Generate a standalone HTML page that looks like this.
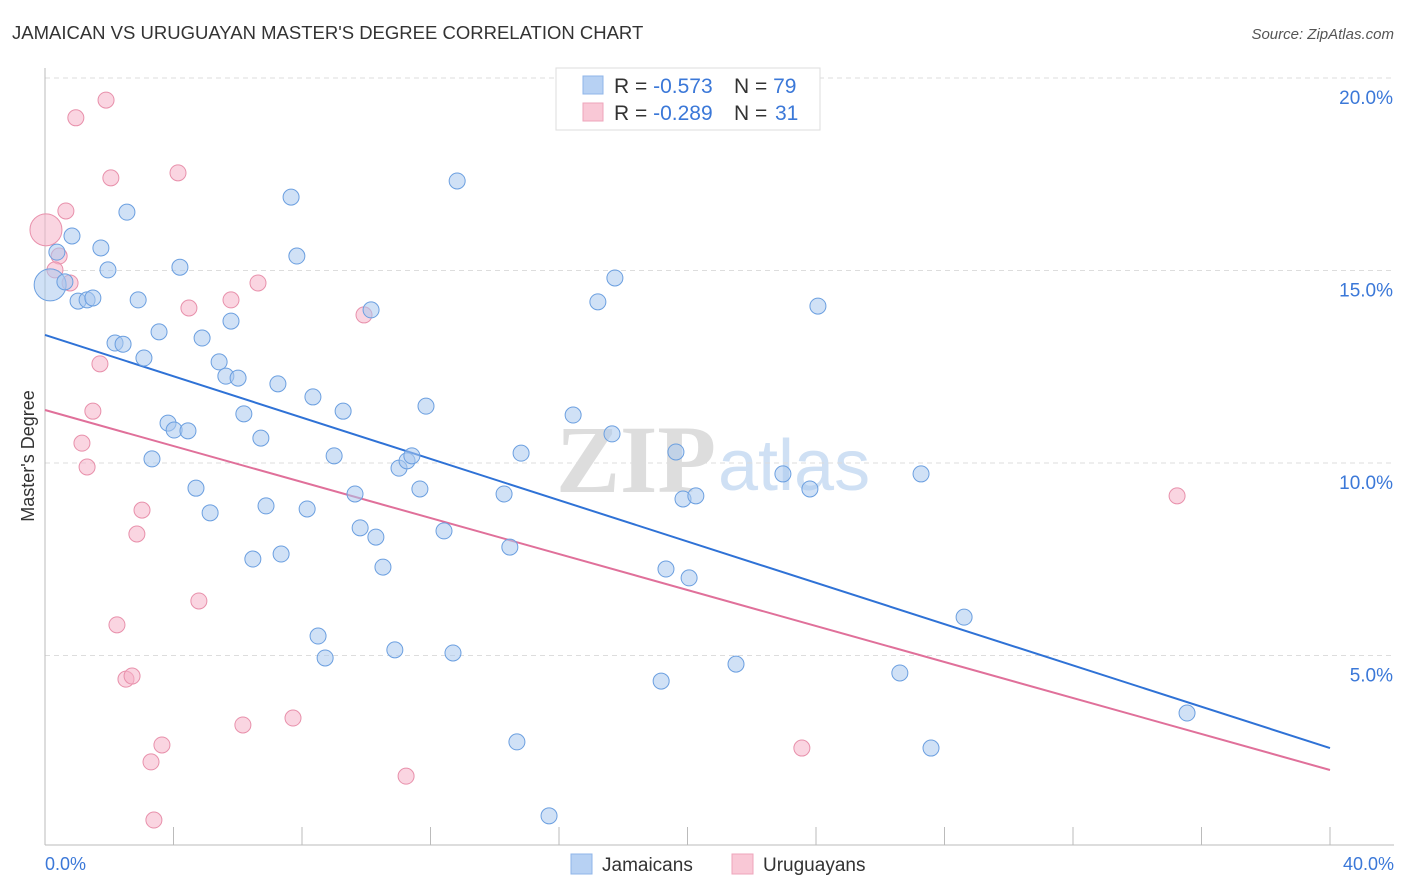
<!DOCTYPE html>
<html><head><meta charset="utf-8"><style>
body{margin:0;background:#fff;font-family:"Liberation Sans",sans-serif}
svg{display:block}
</style></head><body>
<svg id="c" width="1406" height="892">
<text x="12" y="39" font-size="18.5" fill="#333">JAMAICAN VS URUGUAYAN MASTER'S DEGREE CORRELATION CHART</text>
<text x="1394" y="39" font-size="15" fill="#555" font-style="italic" text-anchor="end">Source: ZipAtlas.com</text>
<text x="716" y="492" font-size="96" fill="#ddd" text-anchor="end" font-family="Liberation Serif" font-weight="bold">ZIP</text>
<text x="718" y="490" font-size="72" fill="#cfe0f4">atlas</text>
<g id="grid"></g><g id="axes"></g><g id="lines"></g><g id="pts"></g>
<text transform="translate(34,456) rotate(-90)" font-size="18" fill="#333" text-anchor="middle">Master's Degree</text>
<g>
<rect x="556" y="68" width="264" height="62" fill="#fff" stroke="#ddd"/>
<rect x="583" y="76" width="20" height="18" fill="#b7d1f3" stroke="#8fb5e8"/>
<rect x="583" y="103" width="20" height="18" fill="#f9c8d6" stroke="#eea5bb"/>
<text x="614" y="93" font-size="21" fill="#333">R = <tspan fill="#3b78d8">-0.573</tspan><tspan x="734">N = </tspan><tspan fill="#3b78d8">79</tspan></text>
<text x="614" y="120" font-size="21" fill="#333">R = <tspan fill="#3b78d8">-0.289</tspan><tspan x="734">N = </tspan><tspan fill="#3b78d8" x="775">31</tspan></text>
</g>
<g>
<rect x="571" y="854" width="21" height="20" fill="#b7d1f3" stroke="#8fb5e8"/>
<text x="602" y="871" font-size="19" fill="#333">Jamaicans</text>
<rect x="732" y="854" width="21" height="20" fill="#f9c8d6" stroke="#eea5bb"/>
<text x="763" y="871" font-size="19" fill="#333">Uruguayans</text>
</g>
</svg>
<script>
const yTicks=[5,10,15,20];
const xTickLabels=["0.0%","40.0%"];
const blueX=[0.16,0.37,0.84,0.62,1.03,1.31,1.49,1.74,1.96,2.55,2.90,2.18,2.43,3.08,3.55,4.20,4.89,5.79,5.42,5.63,6.01,6.19,3.83,4.02,4.45,3.33,4.70,5.14,6.72,7.25,7.66,7.84,8.34,9.00,9.28,10.15,6.88,8.16,6.47,7.35,9.65,9.81,10.30,10.52,11.02,11.27,11.42,11.67,11.86,12.42,12.83,14.29,14.47,14.82,16.44,17.21,17.65,17.74,19.64,19.86,20.26,19.33,20.05,22.97,23.81,24.06,27.27,28.61,8.50,8.72,10.89,12.70,19.18,21.51,26.61,35.55,14.69,27.58,15.69];
const blueY=[14.6,15.45,15.87,14.68,14.18,14.21,14.26,15.56,14.99,16.49,14.21,13.09,13.06,12.70,13.38,15.06,13.22,13.66,12.60,12.23,12.18,11.25,11.01,10.83,10.81,10.08,9.32,8.68,10.62,12.03,16.88,15.35,11.69,10.16,11.32,13.95,8.86,8.78,7.48,7.61,9.17,8.29,8.05,7.27,9.84,10.03,10.16,9.30,11.45,8.21,17.30,9.17,7.79,10.23,11.22,14.16,10.73,14.78,10.26,9.04,9.12,7.22,6.99,9.69,9.30,14.05,9.69,5.97,5.48,4.91,5.12,5.04,4.31,4.75,4.52,3.48,2.73,2.57,0.81];
const pinkX=[0.03,0.65,0.96,1.90,2.05,4.14,0.44,0.31,0.78,1.71,1.49,1.15,1.31,3.02,2.86,4.48,5.79,6.63,9.93,4.79,2.24,2.52,2.71,3.64,3.30,3.39,6.16,7.72,11.24,23.56,35.24];
const pinkY=[16.03,16.52,18.94,19.40,17.38,17.51,15.35,14.99,14.65,12.55,11.32,10.49,9.87,8.75,8.13,14.00,14.21,14.65,13.82,6.39,5.77,4.36,4.44,2.65,2.21,0.70,3.17,3.35,1.84,2.57,9.12];
const blueTrend=[13.3,2.57];
const pinkTrend=[11.35,2.0];
const X0=45,X1=1330,Y0=847,PPU=38.5;
const sx=v=>X0+v/40*(X1-X0), sy=v=>Y0-v*PPU;
const NS="http://www.w3.org/2000/svg";
function mk(p,t,a){const e=document.createElementNS(NS,t);for(const k in a)e.setAttribute(k,a[k]);p.appendChild(e);return e;}
const grid=document.getElementById('grid'),axes=document.getElementById('axes'),lines=document.getElementById('lines'),pts=document.getElementById('pts');
yTicks.forEach(t=>{
 const l=mk(grid,'line',{x1:45,x2:1394,y1:sy(t)+1,y2:sy(t)+1,stroke:'#ddd','stroke-dasharray':'5,4'});
 
 
 const tx=mk(grid,'text',{x:1393,y:sy(t)+27,'font-size':19,fill:'#3b78d8','text-anchor':'end'});
 tx.textContent=t.toFixed(1)+'%';
 
 
});
mk(axes,'line',{x1:45,x2:45,y1:68,y2:845,stroke:'#bbb'});
mk(axes,'line',{x1:45,x2:1394,y1:845,y2:845,stroke:'#bbb'});
for(let i=0;i<=10;i++){const x=sx(i*4);const t=mk(axes,'line',{x1:x,x2:x,y1:827,y2:845,stroke:'#bbb'});
 
 }
[[0,'start',45],[40,'end',1394]].forEach((d,i)=>{const t=mk(axes,'text',{x:d[2],y:870,'font-size':18,fill:'#3b78d8','text-anchor':d[1]});t.textContent=xTickLabels[i];
 
 });
function dots(xs,ys,fill,stroke,name){xs.forEach((x,i)=>{const c=mk(pts,'circle',{cx:sx(x),cy:sy(ys[i]),r:i===0?16:8,fill:fill,'fill-opacity':0.55,stroke:stroke,'stroke-width':1});
 
 });}
dots(pinkX,pinkY,'#f6b3c8','#e890ab','uruguayan-point');
dots(blueX,blueY,'#a9c8ef','#6b9fe0','jamaican-point');
const bl=mk(lines,'line',{x1:sx(0),y1:sy(blueTrend[0]),x2:sx(40),y2:sy(blueTrend[1]),stroke:'#2f72d6','stroke-width':2});


const pl=mk(lines,'line',{x1:sx(0),y1:sy(pinkTrend[0]),x2:sx(40),y2:sy(pinkTrend[1]),stroke:'#e0709a','stroke-width':2});


</script>
</body></html>
